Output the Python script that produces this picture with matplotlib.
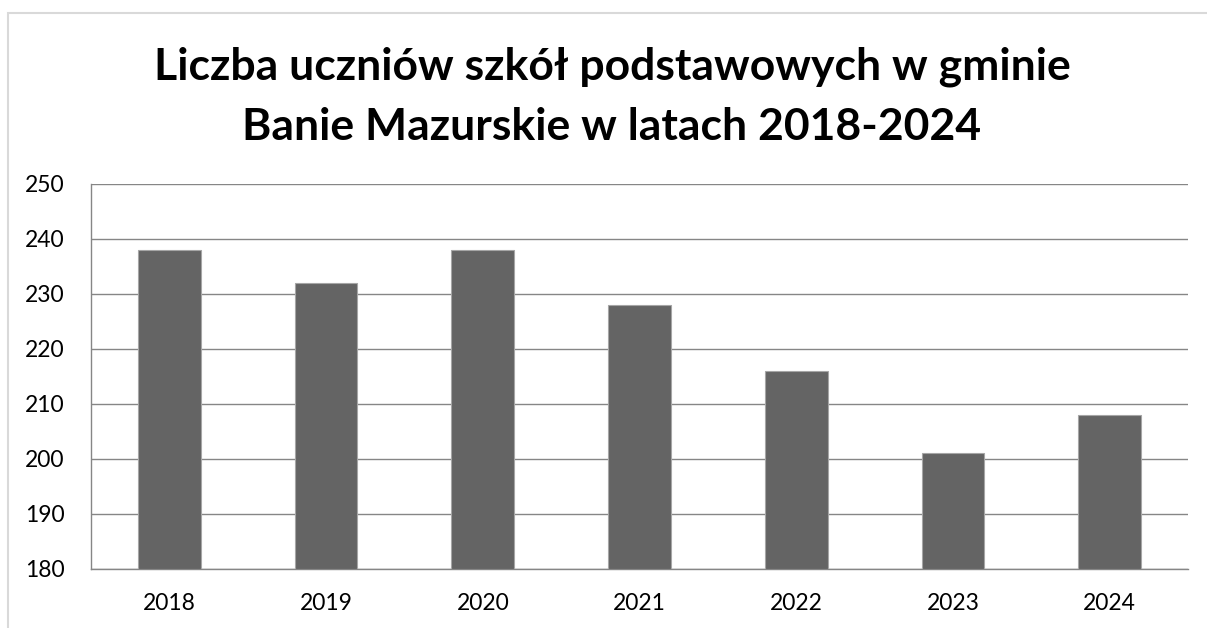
import matplotlib
matplotlib.use("Agg")
import matplotlib.pyplot as plt
from matplotlib.patches import Rectangle

years = ["2018", "2019", "2020", "2021", "2022", "2023", "2024"]
students = [238, 232, 238, 228, 216, 201, 208]
yticks = [180, 190, 200, 210, 220, 230, 240, 250]
title = "Liczba uczniów szkół podstawowych w gminie\nBanie Mazurskie w latach 2018-2024"

plt.rcParams['font.family'] = ['Lato', 'DejaVu Sans']

W, H = 1207, 628
fig = plt.figure(figsize=(W / 100, H / 100), dpi=100)
fig.patch.set_facecolor('white')

# chart border
fig.add_artist(Rectangle((8 / W, -0.05), 1.2, (H - 13) / H + 0.05, transform=fig.transFigure,
                         fill=False, edgecolor='#d9d9d9', linewidth=1.5))

ax = fig.add_axes([91 / W, 1 - 569 / H, (1188 - 91) / W, (569 - 184) / H])
x = range(len(years))
ax.bar(x, [v - 180 for v in students], bottom=180, width=0.4, color='#646464',
       edgecolor='#a6a6a6', linewidth=0.8, zorder=3)
ax.set_xlim(-0.5, len(years) - 0.5)
ax.set_ylim(180, 250)
ax.set_yticks(yticks)
ax.set_xticks(list(x))
ax.set_xticklabels(years)
ax.yaxis.grid(True, color='#868686', linewidth=1.0, zorder=0)
for s in ['top', 'right']:
    ax.spines[s].set_visible(False)
for s in ['left', 'bottom']:
    ax.spines[s].set_color('#868686')
    ax.spines[s].set_linewidth(1.0)
ax.tick_params(axis='both', length=0, labelsize=16.5, colors='black')
ax.tick_params(axis='y', pad=19)
ax.tick_params(axis='x', pad=17)

fig.text(612 / W, 1 - 97 / H, title, ha='center', va='center', fontsize=32,
         fontweight='bold', linespacing=1.6)

fig.savefig("out.png", dpi=100)
